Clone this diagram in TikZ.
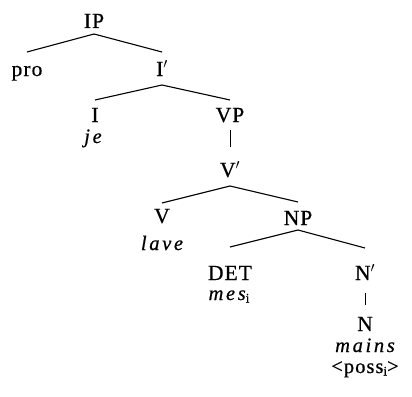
\documentclass[tikz,border=0pt]{standalone}
\usepackage{fontspec}
\setmainfont{Liberation Serif}[LetterSpace=5,FakeBold=0.6]
\newfontface\itsp{Liberation Serif Italic}[LetterSpace=13,FakeBold=0.6]
\newcommand{\idx}{\raisebox{-2.5pt}{\rmfamily\upshape\fontsize{13}{13}\selectfont i}}
\begin{document}
\begin{tikzpicture}[x=1pt,y=-1pt,
  cat/.style={anchor=base,inner sep=0pt,font=\fontsize{21.5}{21.5}\selectfont},
  wrd/.style={anchor=base,inner sep=0pt,font=\fontsize{20.5}{20.5}\selectfont\itsp},
  feat/.style={anchor=base,inner sep=0pt,font=\fontsize{20.5}{20.5}\selectfont},
  branch/.style={line width=1.1pt}]
\useasboundingbox (0,0) rectangle (412,396);

% category labels
\node[cat] (IP)  at (94,28)   {IP};
\node[cat] (pro) at (27,76)   {pro};
\node[cat] (Ib)  at (162,76)  {I$'$};
\node[cat] (I)   at (95,122)  {I};
\node[cat] (VP)  at (230,122) {VP};
\node[cat] (Vb)  at (230,177) {V$'$};
\node[cat] (V)   at (162,223) {V};
\node[cat] (NP)  at (298,225) {NP};
\node[cat] (DET) at (230,280) {DET};
\node[cat] (Nb)  at (365,280) {N$'$};
\node[cat] (N)   at (365,331) {N};

% lexical items
\node[wrd]  (je)    at (93,143)  {je};
\node[wrd]  (lave)  at (162,250) {lave};
\node[wrd]  (mes)   at (229,300) {mes\idx};
\node[wrd]  (mains) at (365,352) {mains};
\node[feat] (poss)  at (365,373) {<poss\idx>};

% branches
\draw[branch] ([yshift=-6pt]IP.base) -- ([yshift=24pt]pro.base);
\draw[branch] ([yshift=-6pt]IP.base) -- ([yshift=24pt]Ib.base);
\draw[branch] ([yshift=-9pt]Ib.base) -- ([yshift=22pt]I.base);
\draw[branch] ([yshift=-9pt]Ib.base) -- ([yshift=22pt]VP.base);
\draw[branch,line width=0.7pt] ([yshift=-8pt]VP.base) -- ([yshift=30pt]Vb.base);
\draw[branch] ([yshift=-9pt]Vb.base) -- ([yshift=20pt]V.base);
\draw[branch] ([yshift=-9pt]Vb.base) -- ([yshift=23pt]NP.base);
\draw[branch] ([yshift=-5pt]NP.base) -- ([yshift=33pt]DET.base);
\draw[branch] ([yshift=-5pt]NP.base) -- ([yshift=32pt]Nb.base);
\draw[branch,line width=0.8pt] ([yshift=-13pt]Nb.base) -- ([yshift=26pt]N.base);
\end{tikzpicture}
\end{document}
